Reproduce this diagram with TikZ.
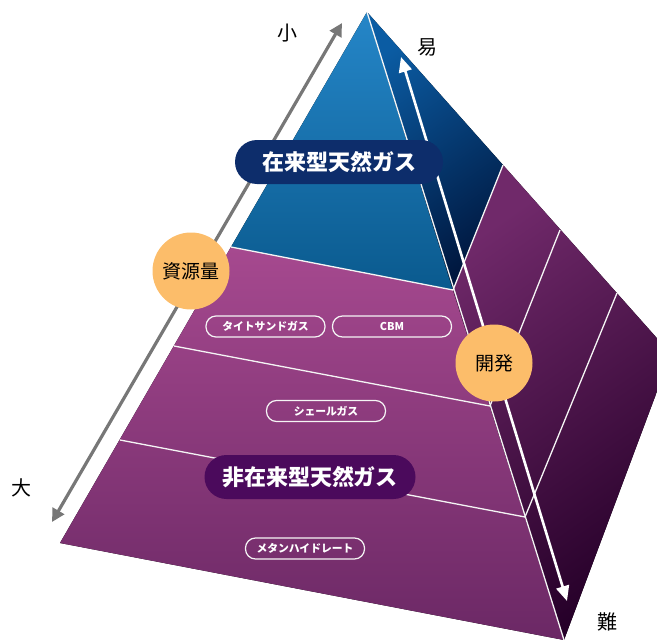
\documentclass[tikz,border=0pt]{standalone}
\usepackage{fontspec}
\newfontfamily\jp{Noto Sans CJK JP}
\usetikzlibrary{arrows.meta}
\definecolor{blueTop}{HTML}{2586C8}
\definecolor{blueBot}{HTML}{0A5A8E}
\definecolor{rBlueTop}{HTML}{0B5CA3}
\definecolor{rBlueBot}{HTML}{001840}
\definecolor{purTop}{HTML}{A6498F}
\definecolor{purBot}{HTML}{6B2865}
\definecolor{rPurTop}{HTML}{70296A}
\definecolor{rPurBot}{HTML}{260029}
\definecolor{navyPill}{HTML}{0D2D6B}
\definecolor{darkPill}{HTML}{4B0A5C}
\definecolor{orangeDot}{HTML}{FCBD6A}
\definecolor{arrowGray}{HTML}{777777}
\tikzset{
  edgeline/.style={draw=white!92!gray, line width=1.3pt},
  bigpill/.style={rounded corners=22pt, minimum height=44pt, text=white,
    font=\jp\bfseries\fontsize{22}{24}\selectfont, inner sep=0pt},
  smallpill/.style={draw=white!92!gray, line width=1.2pt, rounded corners=10pt,
    minimum width=119pt, minimum height=21pt, text=white, inner sep=0pt,
    font=\jp\bfseries\fontsize{10.8}{12}\selectfont},
  dot/.style={circle, fill=orangeDot, minimum size=77pt, inner sep=0pt,
    font=\jp\fontsize{19}{21}\selectfont},
  sidelabel/.style={font=\jp\fontsize{20}{22}\selectfont, text=black, inner sep=0pt},
  grayarrow/.style={draw=arrowGray, line width=3.2pt,
    {Triangle[length=13pt,width=13pt]}-{Triangle[length=13pt,width=13pt]}},
  whitearrow/.style={draw=white, line width=2.6pt,
    {Triangle[length=15pt,width=13pt]}-{Triangle[length=15pt,width=13pt]}}
}
\begin{document}
\begin{tikzpicture}[x=1pt,y=-1pt]
\useasboundingbox (0,0) rectangle (657,640);
% geometry
\coordinate (A) at (367,12);
\coordinate (L) at (60,543);
\coordinate (F) at (564,640);
\coordinate (R) at (671,354);
\coordinate (W1) at (231,247);
\coordinate (W2) at (174,346);
\coordinate (W3) at (120,440);
\coordinate (E1) at (453,290);
\coordinate (E2) at (490,406);
\coordinate (E3) at (525,517);
\coordinate (O1) at (503,165);
\coordinate (O2) at (560,230);
\coordinate (O3) at (617,293);
\begin{scope}
\clip (0,0) rectangle (657,640);
% front face
\fill[top color=blueTop, bottom color=blueBot] (A) -- (W1) -- (E1) -- cycle;
\fill[top color=purTop, bottom color=purBot] (W1) -- (L) -- (F) -- (E1) -- cycle;
% right face
\fill[top color=rBlueTop, bottom color=rBlueBot, shading angle=35] (A) -- (O1) -- (E1) -- cycle;
\fill[top color=rPurTop, bottom color=rPurBot, shading angle=35] (E1) -- (O1) -- (R) -- (F) -- cycle;
% band lines
\draw[edgeline] (W1) -- (E1) -- (O1);
\draw[edgeline] (W2) -- (E2) -- (O2);
\draw[edgeline] (W3) -- (E3) -- (O3);
\draw[edgeline] (A) -- (F);
\end{scope}
% arrows
\coordinate (g1) at (52,522);
\coordinate (g2) at (342,23);
\draw[grayarrow] (g1) -- (g2);
\coordinate (w1) at (401,57);
\coordinate (w2) at (567,601);
\draw[whitearrow] (w1) -- (w2);
% labels
\node[bigpill, fill=navyPill, minimum width=208pt] (conv) at (339,162) {在来型天然ガス};
\node[bigpill, fill=darkPill, minimum width=211pt] (unconv) at (310,477) {非在来型天然ガス};
\node[smallpill] (tight) at (265.5,326.5) {タイトサンドガス};
\node[smallpill] (cbm) at (392,326.5) {CBM};
\node[smallpill] (shale) at (326,411) {シェールガス};
\node[smallpill] (methane) at (305,548.5) {メタンハイドレート};
\node[dot] (res) at (191,271) {資源量};
\node[dot] (dev) at (494,363) {開発};
\node[sidelabel] (small) at (287,33) {小};
\node[sidelabel] (easy) at (427,47) {易};
\node[sidelabel] (big) at (22,488) {大};
\node[sidelabel] (hard) at (607,622) {難};
\end{tikzpicture}
\end{document}
